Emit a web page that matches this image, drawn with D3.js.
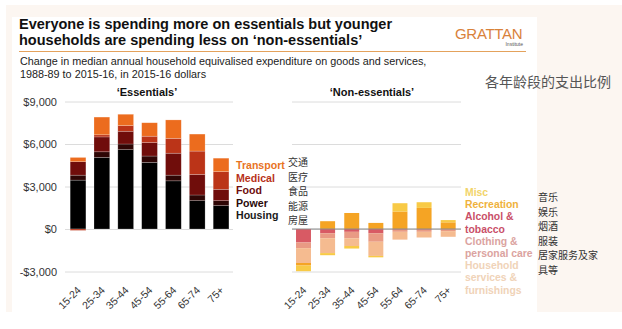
<!DOCTYPE html>
<html>
<head>
<meta charset="utf-8">
<script src="https://cdn.jsdelivr.net/npm/d3@7"></script>
<style>
  body { margin: 0; background: #fff; }
  text { font-family: "Liberation Sans", Arial, sans-serif; }
</style>
</head>
<body>
<div id="chart"></div>
<script>
// age groups shared by both panels
var ages = ["15-24", "25-34", "35-44", "45-54", "55-64", "65-74", "75+"];

// 'Essentials' change, 2015-16 dollars
var housing   = [3450, 5050, 5600, 4700, 3400, 2000, 1650];
var power     = [350, 400, 400, 450, 400, 400, 350];
var food      = [950, 1050, 900, 950, 1550, 1450, 800];
var medical   = [-100, 150, 400, 450, 1050, 1650, 1250];
var transport = [300, 1250, 800, 950, 1300, 1200, 950];

// 'Non-essentials' change
var alcohol    = [-950, -300, -200, -300, -50, -50, 0];
var clothing   = [-400, -350, -450, -600, -150, -150, -150];
var household  = [-1050, -1050, -550, -1000, -550, -400, -400];
var recreation = [-180, 550, 1130, 430, 1230, 1490, 470];
var misc       = [-400, -150, -180, -100, 590, 400, 160];

var yTicks = [-3000, 0, 3000, 6000, 9000];

var essKeys = ["Housing", "Power", "Food", "Medical", "Transport"];
var essSeries = [housing, power, food, medical, transport];
var essColors = ["#000000", "#2e0605", "#700d0b", "#bb3418", "#ec6c1e"];
var essLegendColors = ["#1a1a1a", "#2a0a0a", "#6e0d0d", "#b8321a", "#e8731f"];
var essCn = ["交通", "医疗", "食品", "能源", "房屋"];

var nonKeys = ["Alcohol", "Clothing", "Household", "Recreation", "Misc"];
var nonSeries = [alcohol, clothing, household, recreation, misc];
var nonColors = ["#d85a64", "#e99a84", "#f5bb90", "#f5a424", "#f8ca46"];
var nonLegend = [
  ["Misc", "#f2d46a"],
  ["Recreation", "#efb23c"],
  ["Alcohol &", "#c94f68"],
  ["tobacco", "#c94f68"],
  ["Clothing &", "#dba3a0"],
  ["personal care", "#dba3a0"],
  ["Household", "#f0d3b8"],
  ["services &", "#f0d3b8"],
  ["furnishings", "#f0d3b8"]
];
var nonCn = ["音乐", "娱乐", "烟酒", "服装", "居家服务及家", "具等"];

var svg = d3.select("#chart").append("svg")
  .attr("width", 622)
  .attr("height", 329);

// backgrounds
svg.append("rect").attr("x", 6).attr("y", 5).attr("width", 616).attr("height", 307).attr("fill", "#fcf6f1");
svg.append("rect").attr("x", 12).attr("y", 17).attr("width", 525).attr("height", 295).attr("fill", "#fff");

// title block
svg.append("text").attr("x", 19).attr("y", 29)
  .attr("font-size", "14.5px").attr("font-weight", "bold").attr("fill", "#111")
  .text("Everyone is spending more on essentials but younger");
svg.append("text").attr("x", 19).attr("y", 45)
  .attr("font-size", "14.5px").attr("font-weight", "bold").attr("fill", "#111")
  .text("households are spending less on \u2018non-essentials\u2019");
svg.append("line").attr("x1", 19).attr("x2", 526).attr("y1", 51.5).attr("y2", 51.5)
  .attr("stroke", "#e4a25c").attr("stroke-width", 1);
svg.append("text").attr("x", 455).attr("y", 39)
  .attr("font-size", "15px").attr("fill", "#d9823b").attr("letter-spacing", "-0.3")
  .attr("font-family", "'DejaVu Sans', sans-serif").attr("font-weight", "300")
  .text("GRATTAN");
svg.append("text").attr("x", 523).attr("y", 46).attr("text-anchor", "end")
  .attr("font-size", "5px").attr("fill", "#555").attr("font-family", "'Liberation Serif', serif")
  .text("Institute");

svg.append("text").attr("x", 20).attr("y", 65)
  .attr("font-size", "10.8px").attr("fill", "#222")
  .text("Change in median annual household equivalised expenditure on goods and services,");
svg.append("text").attr("x", 20).attr("y", 78)
  .attr("font-size", "10.8px").attr("fill", "#222")
  .text("1988-89 to 2015-16, in 2015-16 dollars");

svg.append("text").attr("x", 611).attr("y", 87).attr("text-anchor", "end")
  .attr("font-size", "14px").attr("fill", "#555")
  .style("font-family", "'Noto Sans CJK SC', sans-serif")
  .text("各年龄段的支出比例");

svg.append("text").attr("x", 147).attr("y", 96).attr("text-anchor", "middle")
  .attr("font-size", "11px").attr("font-weight", "bold").attr("fill", "#111")
  .text("\u2018Essentials\u2019");
svg.append("text").attr("x", 372).attr("y", 96).attr("text-anchor", "middle")
  .attr("font-size", "11px").attr("font-weight", "bold").attr("fill", "#111")
  .text("\u2018Non-essentials\u2019");

// scales
var y = d3.scaleLinear().domain([-3000, 9000]).range([271.5, 101.5]);

var xLeft = d3.scaleBand().domain(ages).range([65.4, 233.7]).paddingInner(0.34).paddingOuter(0.2);
var xRight = d3.scaleBand().domain(ages).range([291.2, 460.5]).paddingInner(0.38).paddingOuter(0.2);

function fmt(d) {
  return (d < 0 ? "-" : "") + "$" + d3.format(",")(Math.abs(d));
}

// left gridlines + axis labels
var leftAxis = svg.append("g")
  .attr("transform", "translate(65, 0)")
  .call(d3.axisLeft(y).tickValues(yTicks).tickFormat(fmt).tickSizeInner(-168).tickSizeOuter(0).tickPadding(8));
leftAxis.select(".domain").remove();
leftAxis.selectAll("line").attr("stroke", "#dcdcdc");
leftAxis.selectAll("text").attr("font-size", "11px").attr("fill", "#333")
  .style("font-family", "'Liberation Sans', Arial, sans-serif");

// right gridlines only
var rightAxis = svg.append("g")
  .attr("transform", "translate(292, 0)")
  .call(d3.axisLeft(y).tickValues(yTicks).tickFormat("").tickSizeInner(-169).tickSizeOuter(0));
rightAxis.select(".domain").remove();
rightAxis.selectAll("line").attr("stroke", "#dcdcdc");

function stackRows(keys, series) {
  return ages.map(function(a, i) {
    var row = { age: a };
    keys.forEach(function(k, j) { row[k] = series[j][i]; });
    return row;
  });
}

var stack = d3.stack().offset(d3.stackOffsetDiverging);

// essentials bars
var essStack = stack.keys(essKeys)(stackRows(essKeys, essSeries));
svg.append("g").selectAll("g")
  .data(essStack)
  .enter().append("g")
  .attr("fill", function(d, i) { return essColors[i]; })
  .selectAll("rect")
  .data(function(d) { return d; })
  .enter().append("rect")
  .attr("x", function(d) { return xLeft(d.data.age); })
  .attr("y", function(d) { return y(d[1]); })
  .attr("height", function(d) { return Math.abs(y(d[0]) - y(d[1])); })
  .attr("width", xLeft.bandwidth())
  .attr("stroke", "rgba(255,255,255,0.35)")
  .attr("stroke-width", 0.6);

// non-essentials bars
var nonStack = stack.keys(nonKeys)(stackRows(nonKeys, nonSeries));
svg.append("g").selectAll("g")
  .data(nonStack)
  .enter().append("g")
  .attr("fill", function(d, i) { return nonColors[i]; })
  .selectAll("rect")
  .data(function(d) { return d; })
  .enter().append("rect")
  .attr("x", function(d) { return xRight(d.data.age); })
  .attr("y", function(d) { return y(d[1]); })
  .attr("height", function(d) { return Math.abs(y(d[0]) - y(d[1])); })
  .attr("width", xRight.bandwidth());

// darker zero line on the right panel
svg.append("line")
  .attr("x1", 292).attr("x2", 461)
  .attr("y1", y(0)).attr("y2", y(0))
  .attr("stroke", "#8a8a8a").attr("stroke-width", 1);

// category axes with slanted labels
[xLeft, xRight].forEach(function(x) {
  var g = svg.append("g")
    .attr("transform", "translate(0, 290)")
    .call(d3.axisBottom(x).tickSize(0).tickPadding(0));
  g.select(".domain").remove();
  g.selectAll("text")
    .attr("y", 0).attr("dy", "0.3em").attr("x", 2)
    .attr("text-anchor", "end")
    .attr("transform", "rotate(-45)")
    .attr("font-size", "10.5px").attr("fill", "#333")
    .style("font-family", "'Liberation Sans', Arial, sans-serif");
});

// essentials legend
var essLegendOrder = [4, 3, 2, 1, 0];
essLegendOrder.forEach(function(k, i) {
  svg.append("text").attr("x", 236).attr("y", 169 + i * 12.5)
    .attr("font-size", "10.6px").attr("font-weight", "bold")
    .attr("fill", essLegendColors[k])
    .text(essKeys[k]);
});

// Chinese annotation blocks
function cnBlock(lines, x, y0) {
  lines.forEach(function(d, i) {
    svg.append("text")
      .attr("x", x).attr("y", y0 + i * 14.5)
      .attr("font-size", "10px").attr("fill", "#333")
      .style("font-family", "'Noto Sans CJK SC', sans-serif")
      .text(d);
  });
}
cnBlock(essCn, 288, 166);

// non-essentials legend
nonLegend.forEach(function(d, i) {
  svg.append("text").attr("x", 465).attr("y", 196 + i * 12.2)
    .attr("font-size", "10.4px").attr("font-weight", "bold")
    .attr("fill", d[1])
    .text(d[0]);
});
cnBlock(nonCn, 538, 201);
</script>
</body>
</html>
